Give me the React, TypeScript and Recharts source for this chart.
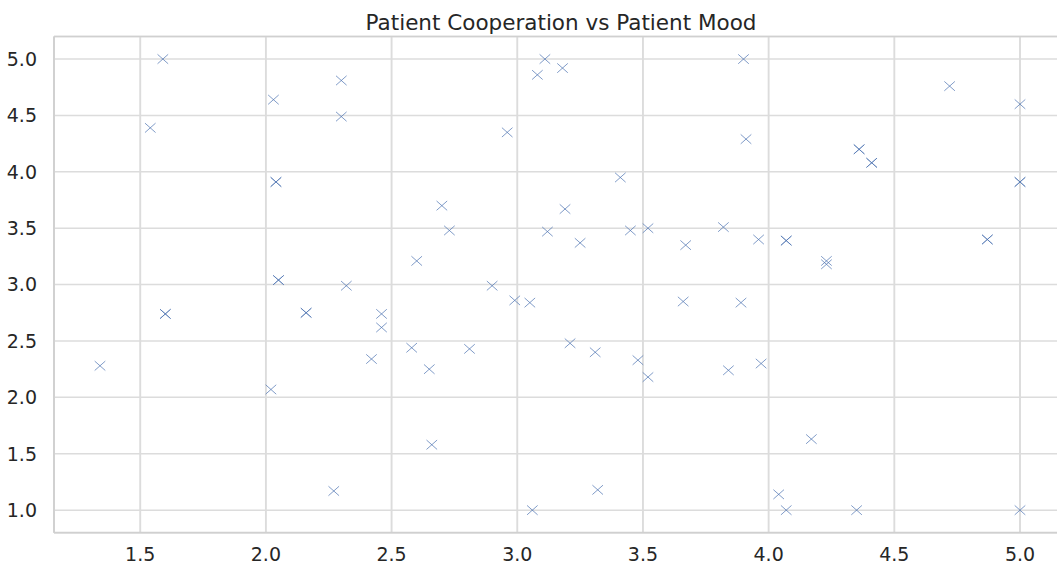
import { ScatterChart, Scatter, XAxis, YAxis, CartesianGrid, ReferenceLine } from 'recharts';

// Patient mood (x) and patient cooperation (y).
// Repeated pairs are overlapping points (they show up darker in the original).
const moodScores = [
  1.34, 1.54, 1.59, 1.6, 1.6, 2.03, 2.04, 2.04, 2.05, 2.05,
  2.02, 2.16, 2.16, 2.27, 2.3, 2.3, 2.32, 2.42, 2.46, 2.46,
  2.58, 2.6, 2.65, 2.66, 2.7, 2.73, 2.81, 2.9, 2.96, 2.99,
  3.05, 3.06, 3.08, 3.11, 3.12, 3.18, 3.19, 3.21, 3.25, 3.31,
  3.32, 3.41, 3.45, 3.48, 3.52, 3.52, 3.67, 3.66, 3.82, 3.84,
  3.89, 3.9, 3.91, 3.96, 3.97, 4.07, 4.07, 4.04, 4.07, 4.17,
  4.23, 4.23, 4.35, 4.36, 4.36, 4.41, 4.41, 4.72, 4.87, 4.87,
  5.0, 5.0, 5.0, 5.0,
];

const cooperationScores = [
  2.28, 4.39, 5.0, 2.74, 2.74, 4.64, 3.91, 3.91, 3.04, 3.04,
  2.07, 2.75, 2.75, 1.17, 4.81, 4.49, 2.99, 2.34, 2.74, 2.62,
  2.44, 3.21, 2.25, 1.58, 3.7, 3.48, 2.43, 2.99, 4.35, 2.86,
  2.84, 1.0, 4.86, 5.0, 3.47, 4.92, 3.67, 2.48, 3.37, 2.4,
  1.18, 3.95, 3.48, 2.33, 3.5, 2.18, 3.35, 2.85, 3.51, 2.24,
  2.84, 5.0, 4.29, 3.4, 2.3, 3.39, 3.39, 1.14, 1.0, 1.63,
  3.21, 3.18, 1.0, 4.2, 4.2, 4.08, 4.08, 4.76, 3.4, 3.4,
  4.6, 3.91, 3.91, 1.0,
];

const moodTicks = [1.5, 2.0, 2.5, 3.0, 3.5, 4.0, 4.5, 5.0];
const cooperationTicks = [1.0, 1.5, 2.0, 2.5, 3.0, 3.5, 4.0, 4.5, 5.0];

const points = moodScores.map((x, i) => ({ x, y: cooperationScores[i] }));

const FONT = '"DejaVu Sans", sans-serif';
const TEXT = '#262626';
const GRID = '#dcdcdc';
const FRAME = '#d0d0d0';

function XMark(props: any) {
  const { cx, cy } = props;
  if (cx == null || cy == null) return null;
  const w = 5.3;
  const h = 4.7;
  return (
    <path
      d={`M${cx - w},${cy - h}L${cx + w},${cy + h}M${cx - w},${cy + h}L${cx + w},${cy - h}`}
      stroke="#4c72b0"
      strokeWidth={1}
      strokeOpacity={0.7}
      fill="none"
    />
  );
}

export default function App() {
  return (
    <div
      style={{
        position: 'fixed',
        left: 0,
        top: 0,
        width: 1057,
        height: 564,
        overflow: 'hidden',
        background: '#fff',
      }}
    >
      <div
        style={{
          position: 'absolute',
          left: 561,
          top: 11.5,
          transform: 'translateX(-50%)',
          whiteSpace: 'nowrap',
          fontFamily: FONT,
          fontSize: 21.5,
          lineHeight: 1,
          color: TEXT,
        }}
      >
        Patient Cooperation vs Patient Mood
      </div>
      <div style={{ position: 'absolute', left: -6, top: 0 }}>
        <ScatterChart
          width={1072}
          height={564}
          margin={{ top: 36.5, right: 0, bottom: 0, left: 0 }}
          style={{ fontFamily: FONT }}
        >
          <CartesianGrid horizontal vertical={false} stroke={GRID} strokeWidth={1.5} />
          <CartesianGrid horizontal={false} vertical stroke={GRID} strokeWidth={1.9} />
          <XAxis
            type="number"
            dataKey="x"
            domain={[1.157, 5.183]}
            allowDataOverflow
            ticks={moodTicks}
            tickFormatter={(v: number) => v.toFixed(1)}
            height={31.3}
            tickLine={false}
            tickSize={0}
            tickMargin={15}
            axisLine={{ stroke: FRAME, strokeWidth: 1.8 }}
            tick={{ fill: TEXT, fontSize: 19, fontFamily: FONT }}
          />
          <YAxis
            type="number"
            dataKey="y"
            domain={[0.8, 5.2]}
            allowDataOverflow
            ticks={cooperationTicks}
            tickFormatter={(v: number) => v.toFixed(1)}
            width={60}
            tickLine={false}
            tickSize={0}
            tickMargin={17}
            axisLine={{ stroke: FRAME, strokeWidth: 1.8 }}
            tick={{ fill: TEXT, fontSize: 19, fontFamily: FONT }}
          />
          <ReferenceLine y={5.2} stroke={FRAME} strokeWidth={1.6} />
          <Scatter data={points} shape={XMark} isAnimationActive={false} />
        </ScatterChart>
      </div>
    </div>
  );
}
